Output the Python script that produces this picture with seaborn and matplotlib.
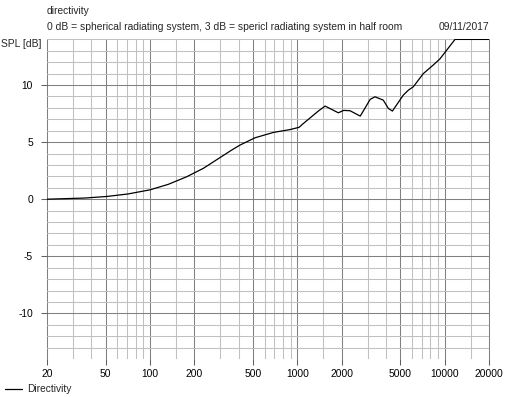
import matplotlib
matplotlib.use("Agg")
import matplotlib.pyplot as plt
import matplotlib.ticker as mticker
import seaborn as sns
import numpy as np
import pandas as pd

# Data
freq = [20, 36, 51, 71, 100, 133, 177, 230, 358, 408, 516, 688, 892, 1030, 1080,
        1388, 1544, 1898, 2064, 2280, 2674, 3124, 3370, 3832, 4150, 4420, 5240,
        5680, 6130, 7160, 8360, 9300, 10340, 11760, 20000]
spl = [0.0, 0.1, 0.24, 0.46, 0.82, 1.3, 1.96, 2.7, 4.3, 4.74, 5.38, 5.85, 6.1, 6.3, 6.55,
       7.72, 8.16, 7.57, 7.78, 7.75, 7.28, 8.75, 8.97, 8.68, 7.95, 7.72, 9.12,
       9.56, 9.85, 11.0, 11.75, 12.3, 13.07, 14.0, 14.0]

x_major = [20, 50, 100, 200, 500, 1000, 2000, 5000, 10000, 20000]
x_minor = [30, 40, 60, 70, 80, 90, 150, 300, 400, 600, 700, 800, 900, 1500,
           3000, 4000, 6000, 7000, 8000, 9000, 15000]
y_major = [-10, -5, 0, 5, 10]
y_minor = list(range(-13, 15))

title = "directivity"
subtitle = "0 dB = spherical radiating system, 3 dB = spericl radiating system in half room"
date = "09/11/2017"
ylabel = "SPL [dB]"
series_name = "Directivity"

sns.set_style("white")
plt.rcParams['font.family'] = ['Liberation Sans Narrow', 'Liberation Sans', 'DejaVu Sans']
FS = 7.4

W, H = 525, 397
fig = plt.figure(figsize=(W / 100, H / 100), dpi=100)
L, R, T, B = 47, 489, 39.4, 359
ax = fig.add_axes([L / W, 1 - B / H, (R - L) / W, (B - T) / H])

df = pd.DataFrame({"freq": freq, "spl": spl})
sns.lineplot(data=df, x="freq", y="spl", ax=ax, color="black", linewidth=0.9, zorder=5)

ax.set_xscale("log")
ax.set_xlim(20, 20000)
ax.set_ylim(-14, 14)
ax.xaxis.set_major_locator(mticker.FixedLocator(x_major))
ax.xaxis.set_major_formatter(mticker.FixedFormatter([str(v) for v in x_major]))
ax.xaxis.set_minor_locator(mticker.FixedLocator(x_minor))
ax.xaxis.set_minor_formatter(mticker.NullFormatter())
ax.yaxis.set_major_locator(mticker.FixedLocator(y_major))
ax.yaxis.set_major_formatter(mticker.FixedFormatter([str(v) for v in y_major]))
ax.yaxis.set_minor_locator(mticker.FixedLocator([v for v in y_minor if v not in y_major]))
ax.yaxis.set_minor_formatter(mticker.NullFormatter())
ax.set_xlabel("")
ax.set_ylabel("")

for s in ax.spines.values():
    s.set_visible(False)

ax.grid(True, which="minor", color="#c0c0c0", linewidth=0.75, zorder=1)
ax.grid(True, which="major", color="#808080", linewidth=0.75, zorder=2)
ax.set_axisbelow(True)
for gl in ax.get_xgridlines() + ax.get_ygridlines():
    gl.set_clip_on(False)

ax.tick_params(axis="both", which="major", length=4, width=0.75, color="#606060",
               labelsize=FS, labelcolor="black", direction="out")
ax.tick_params(axis="x", which="major", pad=3, bottom=True)
ax.tick_params(axis="y", which="major", pad=6, left=True)
ax.tick_params(axis="both", which="minor", length=0)

fig.text(L / W, 1 - 11.5 / H, title, fontsize=FS, va="center", ha="left")
fig.text(L / W, 1 - 27 / H, subtitle, fontsize=FS, va="center", ha="left")
fig.text(R / W, 1 - 27 / H, date, fontsize=FS, va="center", ha="right")
fig.text(1 / W, 1 - 44 / H, ylabel, fontsize=FS, va="center", ha="left")

fig.add_artist(plt.Line2D([5 / W, 22 / W], [1 - 389 / H, 1 - 389 / H],
                          color="black", linewidth=0.9, transform=fig.transFigure))
fig.text(27 / W, 1 - 389 / H, series_name, fontsize=FS, va="center", ha="left")

fig.savefig("out.png", dpi=100)
